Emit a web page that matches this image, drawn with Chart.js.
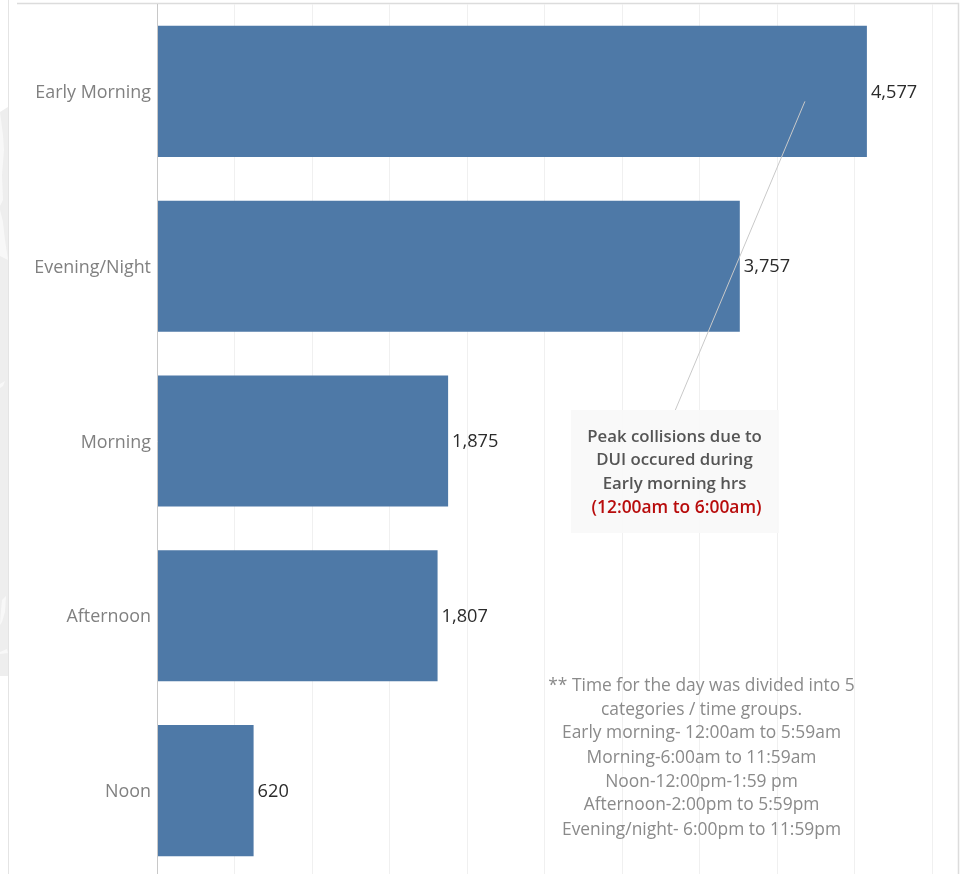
<!DOCTYPE html>
<html><head><meta charset="utf-8">
<style>
html,body{margin:0;padding:0;background:#fff;width:965px;height:874px;overflow:hidden}
#wrap{position:relative;width:965px;height:874px;overflow:hidden}
canvas{position:absolute;left:0;top:0}
</style>
<script src="https://cdn.jsdelivr.net/npm/chart.js@4"></script>
</head><body>
<div id="wrap">
<canvas id="c" width="965" height="880" style="width:965px;height:880px"></canvas>
</div>
<script>
const categories=["Early Morning","Evening/Night","Morning","Afternoon","Noon"];
const collisions=[4577,3757,1875,1807,620];
const axisMax=5168;
const tickValues=[0,500,1000,1500,2000,2500,3000,3500,4000,4500,5000];
const calloutTitle=["Peak collisions due to","DUI occured during","Early morning hrs"];
const calloutHighlight="(12:00am to 6:00am)";
const footnote=["** Time for the day was divided into 5","categories / time groups.","Early morning- 12:00am to 5:59am","Morning-6:00am to 11:59am","Noon-12:00pm-1:59 pm","Afternoon-2:00pm to 5:59pm","Evening/night- 6:00pm to 11:59pm"];
const FONT='"Open Sans",sans-serif';

function poly(x,pts){x.beginPath();pts.forEach((p,i)=>i?x.lineTo(p[0],p[1]):x.moveTo(p[0],p[1]));x.closePath();x.fill();}
const frame={id:'frame',beforeDraw(ch){
  const x=ch.ctx;x.save();
  x.fillStyle='#eeeeee';
  poly(x,[[0,112],[8,107],[8,676],[0,676]]);
  x.fillStyle='#f8f8f8';
  poly(x,[[0,112],[3,135],[4,150],[2,175],[3,200],[0,206]]);
  poly(x,[[0,210],[3,222],[5,240],[8,260],[0,256]]);
  poly(x,[[0,384],[5,381],[3,386],[0,388]]);
  poly(x,[[2,600],[6,596],[5,612],[2,622],[0,625],[1,610]]);
  poly(x,[[0,652],[7,649],[8,653],[0,654]]);
  x.strokeStyle='#e4e4e4';x.lineWidth=1;
  x.beginPath();x.moveTo(8.5,0);x.lineTo(8.5,874);x.stroke();
  x.strokeStyle='#dcdcdc';x.lineWidth=1.5;
  x.beginPath();x.moveTo(17,3.5);x.lineTo(958.5,3.5);x.lineTo(958.5,874);x.stroke();
  x.restore();
}};
const labels={id:'labels',afterDatasetsDraw(ch){
  const x=ch.ctx,m=ch.getDatasetMeta(0),xs=ch.scales.x,ys=ch.scales.y;
  x.save();
  x.font='400 18.2px '+FONT;x.fillStyle='#2b2b2b';x.textAlign='left';x.textBaseline='middle';
  m.data.forEach((b,i)=>x.fillText(collisions[i].toLocaleString('en-US'),b.x+4,b.y+1));
  // leader line from the Early Morning bar down to the callout box
  x.strokeStyle='#c9c9c9';x.lineWidth=1;
  x.beginPath();
  x.moveTo(xs.getPixelForValue(4177),ys.getPixelForValue(0)+10);
  x.lineTo(xs.getPixelForValue(3341),ys.getPixelForValue(2)-31);
  x.stroke();
  // callout
  x.fillStyle='rgba(248,248,248,0.92)';
  x.fillRect(571,410,208,123);
  x.textAlign='center';
  x.font='600 16.8px '+FONT;x.fillStyle='#555555';
  calloutTitle.forEach((t,i)=>x.fillText(t,674.5,437+i*23.5));
  x.font='600 17.4px '+FONT;x.fillStyle='#b80c0c';
  x.fillText(calloutHighlight,676.5,508);
  x.font='400 17.4px '+FONT;x.fillStyle='#8a8a8a';
  const ys2=[686,710,733,758,782,805,830];
  footnote.forEach((t,i)=>x.fillText(t,701.5,ys2[i]));
  x.restore();
}};
new Chart(document.getElementById('c'),{
  type:'bar',
  data:{labels:categories,datasets:[{data:collisions,backgroundColor:'#4e79a7',barPercentage:0.75,categoryPercentage:1}]},
  plugins:[frame,labels],
  options:{
    indexAxis:'y',responsive:false,animation:false,
    layout:{padding:{top:4,right:6.5,bottom:2,left:0}},
    plugins:{legend:{display:false},tooltip:{enabled:false}},
    scales:{
      x:{min:0,max:axisMax,ticks:{display:false},
         afterBuildTicks(s){s.ticks=tickValues.map(v=>({value:v}))},
         grid:{color:'#f0f0f0',lineWidth:1,drawTicks:false},border:{display:false}},
      y:{afterFit(s){s.width=157.5;s.paddingTop=0;s.paddingBottom=0},
         ticks:{color:'#808080',font:{family:FONT,size:17.9},padding:6.5,labelOffset:1.5},
         grid:{display:false,drawTicks:false},border:{display:true,color:'#c8c8c8',width:1}}
    }
  }
});
</script>
</body></html>
